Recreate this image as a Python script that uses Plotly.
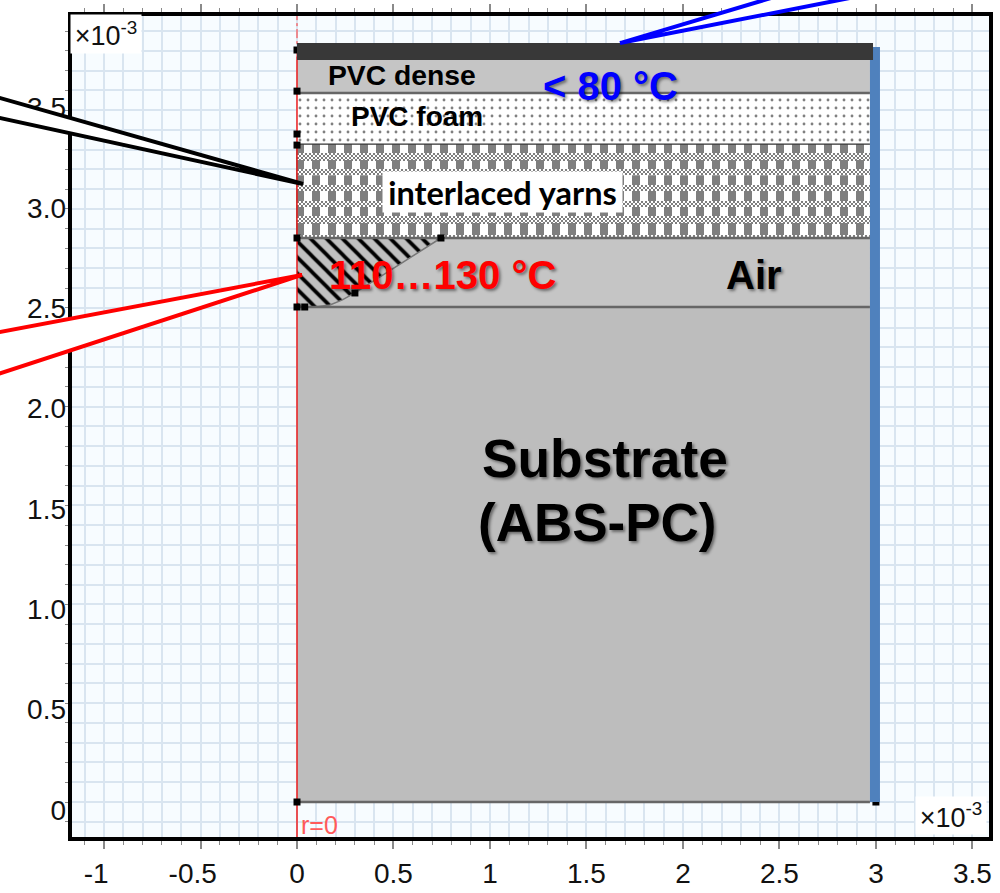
import plotly.graph_objects as go

# axis (units of 1e-3)
x_range = [-1.166, 3.586]
y_range = [-0.177, 3.976]
y_label_range = [-0.1345, 3.956]
tick_x = [-1, -0.5, 0, 0.5, 1, 1.5, 2, 2.5, 3, 3.5]
tick_x_text = ["-1\u00a0\u00a0", "-0.5\u00a0\u00a0", "0", "0.5", "1", "1.5", "2", "2.5", "3", "3.5"]
tick_y = [0, 0.5, 1, 1.5, 2, 2.5, 3, 3.5]
tick_y_text = ["0", "0.5", "1.0", "1.5", "2.0", "2.5", "3.0", "3.5"]

# model geometry
layer_right = 2.969
y_substrate_top = 2.504
y_air_top = 2.853
y_yarn_top = 3.328
y_foam_top = 3.586
y_dense_top = 3.753
y_bar_top = 3.839
bar_right = 2.985
strip_x = [2.969, 3.021]
strip_top = 3.819
weave_bands = [(3.247, 3.283), (3.171, 3.202), (3.091, 3.121), (3.010, 3.040), (2.929, 2.964), (2.853, 2.868)]
melt_x = [0, 0.746, 0.30, 0.235, 0.171, 0.093, 0]
melt_y = [2.853, 2.853, 2.575, 2.54, 2.514, 2.504, 2.504]
vertex_x = [0, 0, 0, 0, 0, 0, 0, 3.0, 0.746, 0.30, 0.04]
vertex_y = [3.804, 3.596, 3.379, 3.323, 2.853, 2.504, 0, 0, 2.853, 2.575, 2.504]

# callout wedges: tip, end 1, end 2
callouts = [
    ("black", (0.031, 3.126), (-1.694, 3.604), (-1.694, 3.493)),
    ("#ff0000", (0.026, 2.666), (-1.694, 2.349), (-1.694, 2.119)),
    ("#0000ff", (1.674, 3.839), (2.94, 4.208), (3.60, 4.208)),
]

SANS = "Liberation Sans"
SHADOW = "2px 2px 3px rgba(0,0,0,0.45)"
labels = [
    ("PVC dense", 0.544, 3.677, 28.3, "black", False),
    ("PVC foam", 0.622, 3.47, 28, "black", False),
    ("< 80 °C", 1.627, 3.622, 40, "#0000ff", True),
    ("110…130 °C", 0.756, 2.666, 40, "#ff0000", True),
    ("Air", 2.368, 2.666, 40, "black", True),
    ("Substrate", 1.596, 1.74, 53.3, "black", True),
    ("(ABS-PC)", 1.554, 1.413, 53, "black", True),
]

W, H = 1000, 893
M = dict(l=72, r=11, t=16, b=56)
plot_w = W - M["l"] - M["r"]
plot_h = H - M["t"] - M["b"]
x_per_px = (x_range[1] - x_range[0]) / plot_w
y_per_px = (y_range[1] - y_range[0]) / plot_h

fig = go.Figure()


def rect(x0, x1, y0, y1, color="rgba(0,0,0,0)", pattern=None):
    fig.add_trace(go.Scatter(
        x=[x0, x1, x1, x0, x0], y=[y0, y0, y1, y1, y0], mode="lines",
        line=dict(width=0), fill="toself", fillcolor=color,
        fillpattern=pattern, hoverinfo="skip",
    ))


def hline(y, x1=layer_right, color="#666666", width=2.5):
    fig.add_trace(go.Scatter(x=[0, x1], y=[y, y], mode="lines",
                             line=dict(color=color, width=width), hoverinfo="skip"))


rect(0, layer_right, 0, y_substrate_top, "#bdbdbd")
rect(0, layer_right, y_substrate_top, y_air_top, "#c5c5c5")
# interlaced yarns: white ground, vertical gray stripes, 2 px checker bands
rect(0, layer_right, y_air_top, y_yarn_top, "white")
stripe_step = 16 * x_per_px
stripe_x, stripe_y = [], []
k = 0
while (k + 0.5) * stripe_step < layer_right:
    cx = (k + 0.25) * stripe_step - x_per_px
    stripe_x += [cx, cx, None]
    stripe_y += [y_air_top, y_yarn_top, None]
    k += 1
fig.add_trace(go.Scatter(x=stripe_x, y=stripe_y, mode="lines",
                         line=dict(color="#7f7f7f", width=8), hoverinfo="skip"))
for lo, hi in weave_bands:
    rect(0, layer_right, lo, hi, "white")
    row_top = round((y_range[1] - hi) / y_per_px)
    row_bottom = round((y_range[1] - lo) / y_per_px)
    row = 0
    while row_top + 2 * row + 2 <= row_bottom + 1:
        ry = y_range[1] - (row_top + 2 * row + 1) * y_per_px
        start = (row % 2) * 2 * x_per_px
        fig.add_trace(go.Scatter(x=[start, layer_right], y=[ry, ry], mode="lines",
                                 line=dict(color="#7f7f7f", width=2, dash="2px,2px"), hoverinfo="skip"))
        row += 1
# foam
rect(0, layer_right, y_yarn_top, y_foam_top, "white",
     dict(shape=".", size=8, solidity=0.1, fgcolor="#808080", bgcolor="white", fillmode="replace"))
rect(0, layer_right, y_foam_top, y_dense_top, "#c5c5c5")
# melt zone
fig.add_trace(go.Scatter(
    x=melt_x, y=melt_y, mode="lines", line=dict(color="#777777", width=1.5), fill="toself",
    fillcolor="#c0c0c0",
    fillpattern=dict(shape="\\", size=11.3, solidity=0.33, fgcolor="black", bgcolor="#c0c0c0", fillmode="replace"),
    hoverinfo="skip",
))
hline(0)
hline(y_substrate_top)
hline(y_air_top)
hline(y_yarn_top, color="#333333", width=1.2)
hline(y_foam_top)
fig.add_trace(go.Scatter(x=[0, 0], y=[y_dense_top + 0.02, y_range[1]], mode="lines",
                         line=dict(color="#ff3030", width=1, dash="dashdot"), hoverinfo="skip"))
fig.add_trace(go.Scatter(x=[0, 0], y=[y_range[0], y_dense_top + 0.02], mode="lines",
                         line=dict(color="#f01010", width=1.4), hoverinfo="skip"))
fig.add_trace(go.Scatter(x=vertex_x, y=vertex_y, mode="markers",
                         marker=dict(symbol="square", size=7, color="black"), hoverinfo="skip"))
rect(strip_x[0], strip_x[1], 0, strip_top, "#4f81bd")
fig.add_trace(go.Scatter(
    x=[0, bar_right, bar_right, 0, 0], y=[y_dense_top, y_dense_top, y_bar_top, y_bar_top, y_dense_top],
    mode="lines", line=dict(width=0), fill="toself", fillcolor="#383838", hoverinfo="skip"))
# carrier for the label axis
fig.add_trace(go.Scatter(x=[None], y=[None], yaxis="y2", mode="lines", hoverinfo="skip"))


def px(x):
    return (x - x_range[0]) / (x_range[1] - x_range[0])


def py(y):
    return (y - y_range[0]) / (y_range[1] - y_range[0])


shapes = []
for color, tip, a, b in callouts:
    path = f"M {px(a[0])} {py(a[1])} L {px(tip[0])} {py(tip[1])} L {px(b[0])} {py(b[1])}"
    shapes.append(dict(type="path", xref="paper", yref="paper", path=path, layer="above",
                       fillcolor="white", line=dict(color=color, width=4)))

annotations = []
for text, x, y, size, color, shadow in labels:
    annotations.append(dict(x=x, y=y, text=f"<b>{text}</b>", showarrow=False,
                            font=dict(family=SANS, size=size, color=color,
                                      shadow=SHADOW if shadow else "none")))
annotations.append(dict(x=1.067, y=3.085, text="<b>interlaced yarns</b>", showarrow=False,
                        width=237, height=38, bgcolor="white",
                        font=dict(family="Lato", size=32.5, color="black")))
annotations.append(dict(x=-0.99, y=3.885, text="×10<sup>-3</sup>", showarrow=False,
                        width=68, height=36, bgcolor="white",
                        font=dict(family=SANS, size=27, color="#111111")))
annotations.append(dict(x=3.389, y=-0.068, text="×10<sup>-3</sup>", showarrow=False,
                        width=68, height=35, bgcolor="white",
                        font=dict(family=SANS, size=27, color="#111111")))
annotations.append(dict(x=0.114, y=-0.116, text="r=0", showarrow=False,
                        font=dict(family=SANS, size=25, color="#ff5a5a")))

GRID = "#d9e5f0"
TICK = "#8a8a8a"
fig.update_xaxes(
    range=x_range, tickmode="array", tickvals=tick_x, ticktext=tick_x_text,
    ticks="outside", ticklen=8, tickcolor=TICK, tickwidth=1.5,
    showline=True, linecolor="black", linewidth=4, mirror="ticks",
    showgrid=True, gridcolor=GRID, gridwidth=1.5, zeroline=False,
    minor=dict(tickmode="linear", tick0=0, dtick=0.1, showgrid=True, gridcolor=GRID, gridwidth=1.5,
               ticks="outside", ticklen=4, tickcolor=TICK, tickwidth=1),
    tickfont=dict(family=SANS, size=28, color="#111111"),
)
fig.update_yaxes(
    range=y_range, tickmode="array", tickvals=tick_y, showticklabels=False,
    ticks="outside", ticklen=3, tickcolor=TICK, tickwidth=1,
    showline=True, linecolor="black", linewidth=4, mirror=True,
    showgrid=True, gridcolor=GRID, gridwidth=1.5, zeroline=False,
    minor=dict(tickmode="linear", tick0=0, dtick=0.1, showgrid=True, gridcolor=GRID, gridwidth=1.5,
               ticks="outside", ticklen=3, tickcolor=TICK, tickwidth=1),
)
fig.update_layout(
    width=W, height=H, margin=dict(**M, pad=0, autoexpand=False), showlegend=False,
    paper_bgcolor="white", plot_bgcolor="#f7fcff", shapes=shapes, annotations=annotations,
    hovermode=False,
    yaxis2=dict(overlaying="y", side="left", range=y_label_range, tickmode="array",
                tickvals=tick_y, ticktext=tick_y_text, showgrid=False, zeroline=False,
                showline=False, ticks="", ticklabelstandoff=5,
                tickfont=dict(family=SANS, size=28, color="#111111")),
)
fig.write_html("out.html", config=dict(displayModeBar=False),
               post_script="document.body.style.margin='0';")
